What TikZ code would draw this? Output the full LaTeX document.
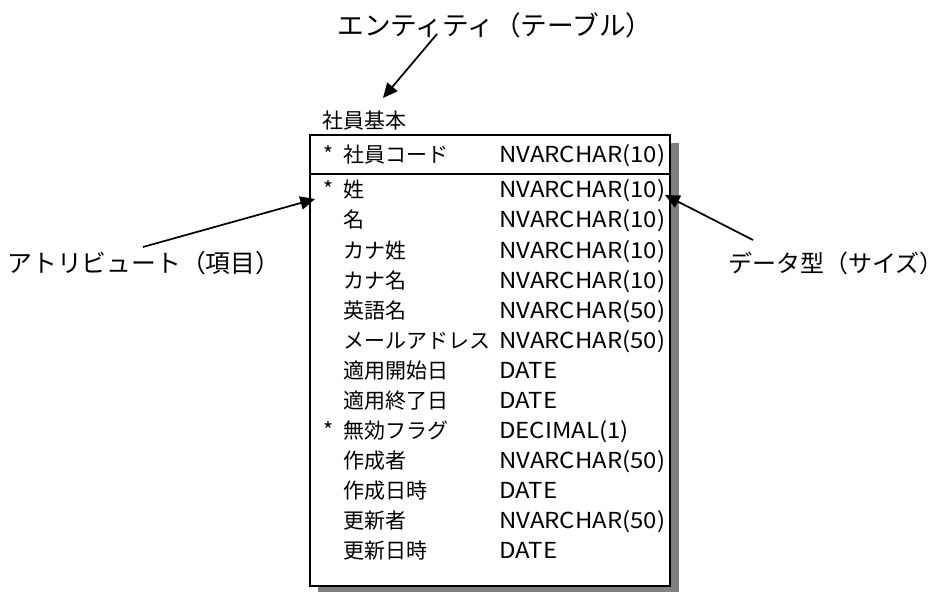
\documentclass[tikz,border=0pt]{standalone}
\usepackage{fontspec}
\usetikzlibrary{arrows.meta}
\newfontfamily\jp{Noto Sans CJK JP}
\newfontfamily\jptype[FakeStretch=1.09]{Noto Sans CJK JP}
\tikzset{
  note/.style={inner sep=0pt, font=\jp\fontsize{18pt}{20pt}\selectfont},
  cell/.style={inner sep=0pt, anchor=base west, font=\jp\fontsize{15.75pt}{18pt}\selectfont},
  typecell/.style={inner sep=0pt, anchor=base west, font=\jptype\fontsize{16.5pt}{18pt}\selectfont},
  starcell/.style={inner sep=0pt, anchor=base, font=\jp\fontsize{16pt}{18pt}\selectfont},
  pointer/.style={line width=1.3pt, -{Triangle[length=11pt,width=10pt]}},
}
\begin{document}
\begin{tikzpicture}[x=0.75pt,y=-0.75pt]
\useasboundingbox (0,0) rectangle (951,592);
% shadow and box
\fill[black!50] (318,143) rectangle (679,594);
\draw[line width=1.2pt, fill=white] (310,135) rectangle (670,586);
\draw[line width=1.2pt] (310,174) -- (670,174);
% title
\node[cell] (title) at (322,128) {社員基本};
% primary key row
\node[starcell] (s0) at (328,163) {*};
\node[cell] (n0) at (343,163) {社員コード};
\node[typecell] (t0) at (499,163) {NVARCHAR(10)};
% attribute rows
\foreach \st/\nm/\ty [count=\i from 1] in {
  */姓/NVARCHAR(10),
  {}/名/NVARCHAR(10),
  {}/カナ姓/NVARCHAR(10),
  {}/カナ名/NVARCHAR(10),
  {}/英語名/NVARCHAR(50),
  {}/メールアドレス/NVARCHAR(50),
  {}/適用開始日/DATE,
  {}/適用終了日/DATE,
  */無効フラグ/DECIMAL(1),
  {}/作成者/NVARCHAR(50),
  {}/作成日時/DATE,
  {}/更新者/NVARCHAR(50),
  {}/更新日時/DATE}{
  \pgfmathsetmacro{\yy}{190+30*(\i-1)}
  \node[starcell] (s\i) at (328,\yy+8) {\st};
  \node[cell] (n\i) at (343,\yy+8) {\nm};
  \node[typecell] (t\i) at (499,\yy+8) {\ty};
}
% annotations
\node[note, font=\jp\fontsize{20pt}{22pt}\selectfont] (entity) at (495,25) {エンティティ（テーブル）};
\node[note, font=\jp\fontsize{18.6pt}{21pt}\selectfont] (attr) at (144,263) {アトリビュート（項目）};
\node[note] (dtype) at (836,263) {データ型（サイズ）};
\coordinate (entityTail) at (437,34);
\coordinate (entityTip) at (383,98);
\coordinate (attrTail) at (143,247);
\coordinate (attrTip) at (315,199);
\coordinate (dtypeTail) at (753,240);
\coordinate (dtypeTip) at (665,195);
\draw[pointer] (entityTail) -- (entityTip);
\draw[pointer] (attrTail) -- (attrTip);
\draw[pointer] (dtypeTail) -- (dtypeTip);
\end{tikzpicture}
\end{document}
